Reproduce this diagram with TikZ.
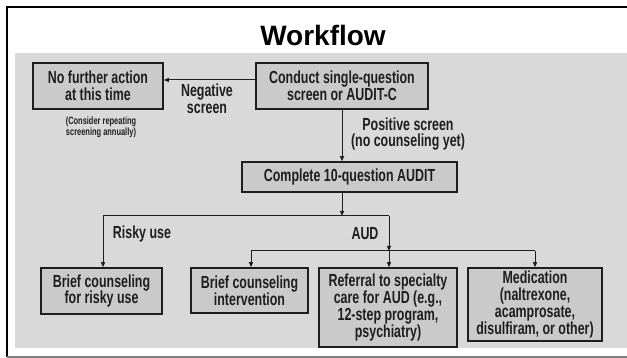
\documentclass[tikz,border=0pt]{standalone}
\usepackage{fontspec}
\setmainfont{Liberation Sans}
\newfontfamily\boxfont{Liberation Sans}[FakeStretch=0.71]
\usetikzlibrary{arrows.meta}
\definecolor{panel}{HTML}{D9D9D9}
\definecolor{boxfill}{HTML}{CACACA}
\definecolor{ink}{HTML}{1E1E1E}
\tikzset{
  stagebox/.style={draw=ink, line width=1.6pt, fill=boxfill, inner sep=0pt,
    align=center, text=ink, font=\boxfont\bfseries\fontsize{17.5}{16.8}\selectfont},
  lbl/.style={align=center, text=ink, inner sep=0pt,
    font=\boxfont\bfseries\fontsize{17.5}{16.8}\selectfont},
  arr/.style={draw=ink, line width=1pt, -{Triangle[length=5pt,width=4pt]}},
  link/.style={draw=ink, line width=1pt},
}
\begin{document}
\begin{tikzpicture}[x=1pt,y=-1pt]
\useasboundingbox (0,0) rectangle (627,358);
% frame and backdrop
\fill[white] (0,0) rectangle (627,358);
\fill[panel] (15,53) rectangle (627,348);
\draw[black, line width=2.2pt] (627,7) -- (7,7) -- (7,357);
\draw[gray, line width=1.6pt] (7,357) -- (627,357);
% title
\node (title) at (323,35) {\bfseries\fontsize{28}{30}\selectfont Workflow};
% stages
\node[stagebox, minimum width=130pt, minimum height=46pt] (nofurther) at (98,86)
  {No further action\\at this time};
\node[stagebox, minimum width=172pt, minimum height=46pt] (conduct) at (342,86)
  {Conduct single-question\\screen or AUDIT-C};
\node[stagebox, minimum width=215pt, minimum height=30pt] (complete) at (349.5,177)
  {Complete 10-question AUDIT};
\node[stagebox, minimum width=121pt, minimum height=46pt] (risky) at (101.5,291)
  {Brief counseling\\for risky use};
\node[stagebox, minimum width=117pt, minimum height=45pt] (brief) at (249.5,290.5)
  {Brief counseling\\intervention};
\node[stagebox, minimum width=138pt, minimum height=79pt] (referral) at (388,307.5)
  {Referral to specialty\\care for AUD (e.g.,\\12-step program,\\psychiatry)};
\node[stagebox, minimum width=134pt, minimum height=73pt] (medication) at (535,304.5)
  {Medication\\(naltrexone,\\acamprosate,\\disulfiram, or other)};
% labels
\node[lbl] (neg) at (207,99) {Negative\\screen};
\node[lbl, font=\boxfont\bfseries\fontsize{10.5}{11}\selectfont] (annual) at (101,127)
  {(Consider repeating\\screening annually)};
\node[lbl] (pos) at (408,134) {Positive screen\\(no counseling yet)};
\node[lbl] (riskylbl) at (142,234) {Risky use};
\node[lbl] (audlbl) at (365,234) {AUD};
% connectors
\path (conduct.west) ++(0,-6) coordinate (negfrom);
\draw[arr] (negfrom) -- (negfrom -| nofurther.east);
\draw[arr] (conduct.south) -- (conduct.south |- complete.north);
\coordinate (split) at (342,216);
\coordinate (splitL) at (103,216);
\coordinate (splitR) at (389,216);
\draw[arr] (complete.south -| split) -- (split);
\draw[link] (splitL) -- (splitR);
\draw[arr] (splitL) -- (splitL |- risky.north);
\coordinate (audmid) at (389,251);
\coordinate (audL) at (251,251);
\coordinate (audR) at (535,251);
\draw[arr] (splitR) -- (audmid);
\draw[link] (audL) -- (audR);
\draw[arr] (audL) -- (audL |- brief.north);
\draw[arr] (audmid) -- (audmid |- referral.north);
\draw[arr] (audR) -- (audR |- medication.north);
\end{tikzpicture}
\end{document}
